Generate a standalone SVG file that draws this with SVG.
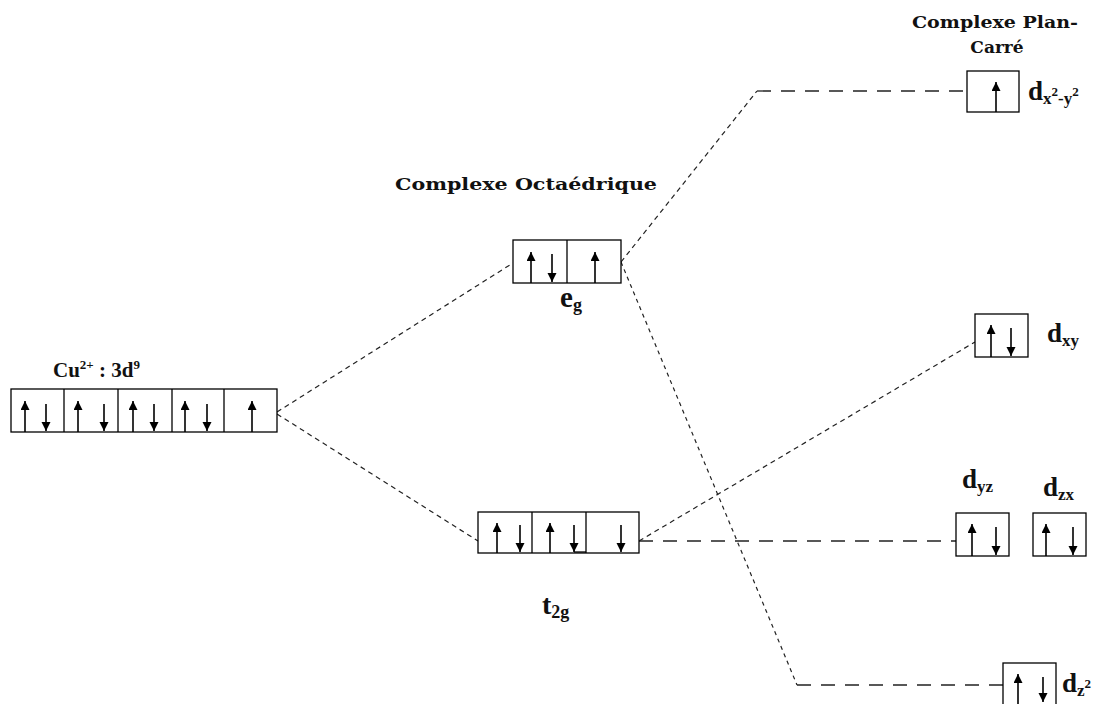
<svg xmlns="http://www.w3.org/2000/svg" width="1104" height="704" viewBox="0 0 1104 704">
<style>
.box{fill:#fff;stroke:#000;stroke-width:1.3}
.div{stroke:#000;stroke-width:1.3}
.up{stroke:#000;stroke-width:1.6;marker-end:url(#ah)}
.dn{stroke:#000;stroke-width:1.6;marker-end:url(#ah)}
.dash{fill:none;stroke:#222;stroke-width:1.2;stroke-dasharray:5,4}
.ldash{fill:none;stroke:#222;stroke-width:1.3;stroke-dasharray:14,10}
.dot{fill:none;stroke:#222;stroke-width:1.2;stroke-dasharray:4,4}
.hdr{font-family:"DejaVu Serif",serif;font-weight:bold;font-size:17px;fill:#111}
.lbl{font-family:"Liberation Serif",serif;font-weight:bold;fill:#111}
</style>
<defs>
<marker id="ah" markerUnits="userSpaceOnUse" markerWidth="11" markerHeight="11" refX="9" refY="4.5" orient="auto">
<path d="M0,0 L9,4.5 L0,9 z" fill="#000"/>
</marker>
</defs>

<g id="connectors">
<path class="dash" d="M277,412 L513,263"/>
<path class="dash" d="M277,414 L478,541"/>
<path class="dash" d="M621,262 L757,91"/>
<path class="ldash" d="M757,91 L967,91"/>
<path class="dot" d="M621,262 L797,685"/>
<path class="ldash" d="M797,685 L1003,685"/>
<path class="dash" d="M639,541 L975,342"/>
<path class="ldash" d="M639,541 L956,541"/>
</g>

<g id="cu">
<text class="lbl" x="53" y="377" font-size="21">Cu<tspan font-size="13" dy="-8">2+</tspan><tspan dy="8"> : 3d</tspan><tspan font-size="13" dy="-8">9</tspan></text>
<rect class="box" x="11" y="389" width="266" height="43"/>
<line class="div" x1="64" y1="389" x2="64" y2="432"/>
<line class="div" x1="118" y1="389" x2="118" y2="432" stroke-width="2.5"/>
<line class="div" x1="172" y1="389" x2="172" y2="432"/>
<line class="div" x1="224" y1="389" x2="224" y2="432"/>
<line class="up" x1="25" y1="432" x2="25" y2="401"/>
<line class="dn" x1="46" y1="404" x2="46" y2="431"/>
<line class="up" x1="78" y1="432" x2="78" y2="401"/>
<line class="dn" x1="104" y1="404" x2="104" y2="431"/>
<line class="up" x1="133" y1="432" x2="133" y2="401"/>
<line class="dn" x1="154" y1="404" x2="154" y2="431"/>
<line class="up" x1="185" y1="432" x2="185" y2="401"/>
<line class="dn" x1="207" y1="404" x2="207" y2="431"/>
<line class="up" x1="252" y1="432" x2="252" y2="401"/>
</g>

<g id="eg">
<text class="hdr" x="395" y="190" textLength="262" lengthAdjust="spacingAndGlyphs">Complexe Octaédrique</text>
<rect class="box" x="513" y="240" width="108" height="43"/>
<line class="div" x1="567" y1="240" x2="567" y2="283"/>
<line class="up" x1="531" y1="283" x2="531" y2="252"/>
<line class="dn" x1="552" y1="254" x2="552" y2="282"/>
<line class="up" x1="595" y1="283" x2="595" y2="252"/>
<text class="lbl" x="560" y="307" font-size="29">e<tspan font-size="18" dy="4">g</tspan></text>
</g>

<g id="t2g">
<rect class="box" x="478" y="512" width="161" height="41"/>
<line class="div" x1="532" y1="512" x2="532" y2="553"/>
<line class="div" x1="586" y1="512" x2="586" y2="553" stroke-width="2.5"/>
<line class="div" x1="574" y1="552" x2="586" y2="552" stroke-width="2"/>
<line class="up" x1="497" y1="553" x2="497" y2="523"/>
<line class="dn" x1="520" y1="525" x2="520" y2="552"/>
<line class="up" x1="550" y1="553" x2="550" y2="523"/>
<line class="dn" x1="574" y1="525" x2="574" y2="552"/>
<line class="dn" x1="621" y1="525" x2="621" y2="552"/>
<text class="lbl" x="542" y="614" font-size="28">t<tspan font-size="18" dy="4">2g</tspan></text>
</g>

<g id="dx2y2">
<text class="hdr" x="912" y="28" textLength="166" lengthAdjust="spacingAndGlyphs">Complexe Plan-</text>
<text class="hdr" x="997" y="53" text-anchor="middle">Carré</text>
<rect class="box" x="967" y="71" width="52" height="41"/>
<line class="up" x1="996" y1="112" x2="996" y2="82"/>
<text class="lbl" x="1028" y="100" font-size="27">d<tspan font-size="17" dy="4">x</tspan><tspan font-size="13" dy="-8">2</tspan><tspan font-size="17" dy="8">-y</tspan><tspan font-size="13" dy="-8">2</tspan></text>
</g>

<g id="dxy">
<rect class="box" x="975" y="314" width="53" height="43"/>
<line class="up" x1="991" y1="357" x2="991" y2="325"/>
<line class="dn" x1="1011" y1="328" x2="1011" y2="356"/>
<text class="lbl" x="1047" y="342" font-size="27">d<tspan font-size="17" dy="4">xy</tspan></text>
</g>

<g id="dyz">
<text class="lbl" x="962" y="488" font-size="27">d<tspan font-size="17" dy="4">yz</tspan></text>
<rect class="box" x="956" y="513" width="53" height="43"/>
<line class="up" x1="972" y1="556" x2="972" y2="524"/>
<line class="dn" x1="996" y1="527" x2="996" y2="555"/>
</g>

<g id="dzx">
<text class="lbl" x="1043" y="496" font-size="27">d<tspan font-size="17" dy="4">zx</tspan></text>
<rect class="box" x="1033" y="513" width="53" height="43"/>
<line class="up" x1="1046" y1="556" x2="1046" y2="524"/>
<line class="dn" x1="1073" y1="527" x2="1073" y2="555"/>
</g>

<g id="dz2">
<rect class="box" x="1003" y="663" width="53" height="45"/>
<line class="up" x1="1018" y1="706" x2="1018" y2="674"/>
<line class="dn" x1="1043" y1="677" x2="1043" y2="702"/>
<text class="lbl" x="1062" y="692" font-size="27">d<tspan font-size="17" dy="4">z</tspan><tspan font-size="13" dy="-8">2</tspan></text>
</g>
</svg>
